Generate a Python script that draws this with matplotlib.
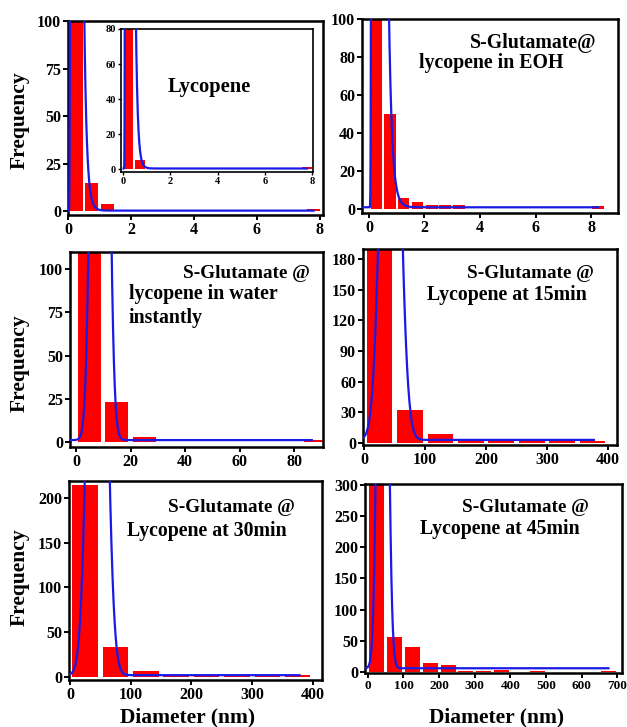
import numpy as np
import matplotlib
matplotlib.use('Agg')
import matplotlib.pyplot as plt

plt.rcParams['font.family'] = 'Liberation Serif'
plt.rcParams['font.weight'] = 'bold'

# histogram bins (centre, count) for each sample
lyc_x = [0.26, 0.75, 1.25, 7.8]
lyc_h = [130, 15, 4, 1]
lyc_in_x = [0.22, 0.7, 1.2, 2.7, 4.2, 7.8]
lyc_in_h = [130, 5, 0.8, 0.8, 0.8, 1]
eoh_x = [0.27, 0.76, 1.25, 1.75, 2.27, 2.75, 3.25, 8.25]
eoh_h = [130, 50, 6, 4, 2, 2, 2, 1.5]
water_x = [5, 15, 25, 88]
water_h = [130, 23, 3, 1]
m15_x = [25, 75, 125, 175, 225, 275, 325, 375]
m15_h = [200, 32, 9, 2, 2, 2, 2, 1.5]
m30_x = [25, 75, 125, 175, 225, 275, 325, 375]
m30_h = [214, 34, 7, 2, 2, 2, 2, 2]
m45_x = [25, 75, 125, 175, 225, 275, 325, 375, 475, 675]
m45_h = [330, 56, 40, 15, 11, 2, 2, 4, 2, 2]

# fitted size distributions: kind, centre, width, amplitude, offset, x range
lyc_fit = ('lognorm', 0.177, 0.41, 3100, 0.3, 0.01, 7.8)
eoh_fit = ('lognorm', 0.225, 0.43, 4000, 1.0, -0.2, 8.25)
water_fit = ('gauss', 8.8, 2.1, 870, 1.0, -2, 86.5)
m15_fit = ('gauss', 43, 13.2, 615, 3, -2, 377)
m30_fit = ('gauss', 45, 12.3, 880, 2, -1.6, 378)
m45_fit = ('gauss', 41.7, 11.55, 1340, 6, -8, 675)

W, H = 627, 727
fig = plt.figure(figsize=(W / 100, H / 100), dpi=100)


def box(l, t, r, b):
    return [l / W, 1 - b / H, (r - l) / W, (b - t) / H]


def fit_curve(fit):
    kind, xc, w, amp, base, x0, x1 = fit
    x = np.linspace(x0, x1, 2000)
    if kind == 'gauss':
        y = base + amp * np.exp(-(x - xc) ** 2 / (2 * w ** 2))
    else:
        xs = np.clip(x, 1e-6, None)
        y = base + np.where(x > 0, amp * np.exp(-np.log(xs / xc) ** 2 / (2 * w ** 2)), 0)
    return x, y


def panel(rect, xs, hs, width, fit, xlim, ylim, xticks, yticks, fs=11.5, lw=1.8):
    ax = fig.add_axes(rect)
    ax.bar(xs, hs, width=width, color='#ff0000', zorder=2)
    cx, cy = fit_curve(fit)
    ax.plot(cx, cy, color='#1a1ae6', lw=1.6, zorder=3)
    ax.set_xlim(*xlim)
    ax.set_ylim(*ylim)
    ax.set_xticks(xticks)
    ax.set_yticks(yticks)
    for s in ax.spines.values():
        s.set_linewidth(lw)
    ax.tick_params(direction='out', length=3.5, width=1.4, labelsize=fs, pad=1.5)
    for lab in ax.get_xticklabels() + ax.get_yticklabels():
        lab.set_fontweight('bold')
    return ax


panel(box(68, 21, 323, 215), lyc_x, lyc_h, 0.42, lyc_fit,
      (0, 8.1), (-2, 100), [0, 2, 4, 6, 8], [0, 25, 50, 75, 100])
ins = panel(box(121, 29, 313, 172), lyc_in_x, lyc_in_h, 0.42, lyc_fit,
            (-0.1, 8.05), (-1.7, 80), [0, 2, 4, 6, 8], [0, 20, 40, 60, 80],
            fs=7.5, lw=1.2)
ins.tick_params(length=2.5, width=1.0, pad=1)

panel(box(362, 19, 618, 213), eoh_x, eoh_h, 0.42, eoh_fit,
      (-0.25, 8.97), (-2, 100), [0, 2, 4, 6, 8], [0, 20, 40, 60, 80, 100])
panel(box(70, 252, 323, 447), water_x, water_h, 8.5, water_fit,
      (-2.2, 90.6), (-3, 110), [0, 20, 40, 60, 80], [0, 25, 50, 75, 100])
panel(box(363, 249, 617, 445), m15_x, m15_h, 42, m15_fit,
      (-2, 415), (-2, 190), [0, 100, 200, 300, 400], [0, 30, 60, 90, 120, 150, 180])
panel(box(69, 481, 322, 680), m30_x, m30_h, 42, m30_fit,
      (-1.6, 415), (-3.4, 219), [0, 100, 200, 300, 400], [0, 50, 100, 150, 200])
ax6 = panel(box(365, 484, 622, 673), m45_x, m45_h, 42, m45_fit,
            (-8, 713), (-1.6, 301), [0, 100, 200, 300, 400, 500, 600, 700],
            [0, 50, 100, 150, 200, 250, 300])
ax6.tick_params(axis='x', labelsize=9.5)


def label(x, y, s, size=14.3, **kw):
    fig.text(x / W, 1 - y / H, s, fontsize=size, fontweight='bold',
             va='center', **kw)


label(168, 87, 'Lycopene', 14.8)
label(470, 43, 'S-Glutamate@')
label(419, 63, 'lycopene in EOH')
label(183, 273, 'S-Glutamate @', 13.8)
label(129, 294, 'lycopene in water')
label(129, 318, 'instantly')
label(467, 273, 'S-Glutamate @', 13.8)
label(427, 295, 'Lycopene at 15min')
label(168, 507, 'S-Glutamate @', 13.8)
label(127, 531, 'Lycopene at 30min')
label(462, 508, 'S-Glutamate @', 13.8)
label(420, 529, 'Lycopene at 45min')

for y in (120, 363, 577):
    label(20, y, 'Frequency', 15.5, rotation=90, ha='center')
label(188, 717, 'Diameter (nm)', 15.5, ha='center')
label(497, 717, 'Diameter (nm)', 15.5, ha='center')

fig.savefig('out.png', dpi=100)
